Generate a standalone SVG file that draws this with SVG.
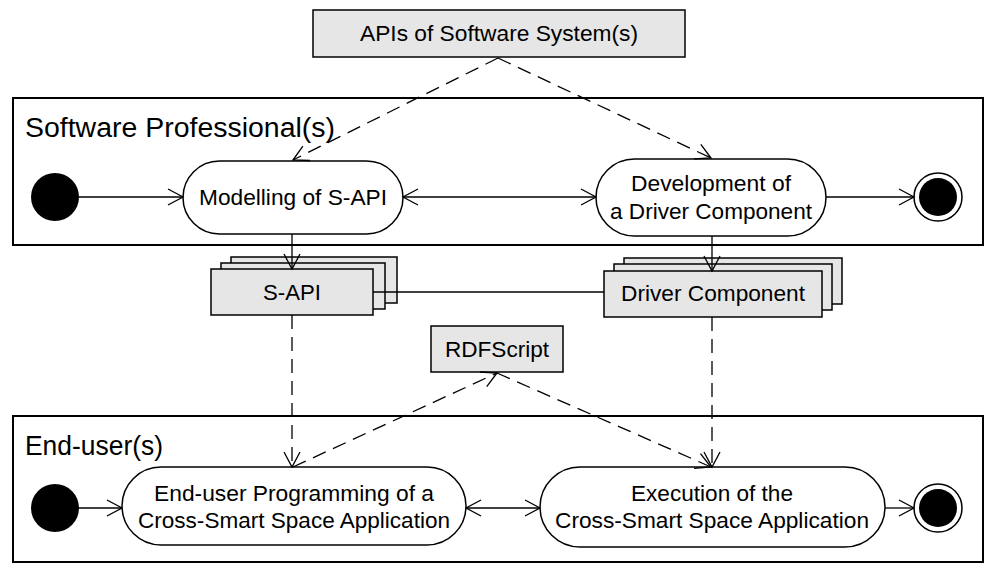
<svg xmlns="http://www.w3.org/2000/svg" width="1000" height="573" viewBox="0 0 1000 573">
<defs>
<style>
text{font-family:"Liberation Sans",Arial,sans-serif;fill:#000}
.lane{fill:none;stroke:#000;stroke-width:2}
.act{fill:#fff;stroke:#000;stroke-width:1.5}
.obj{fill:#e6e6e6;stroke:#000;stroke-width:1.5}
.c{fill:none;stroke:#000;stroke-width:1.3}
.d{stroke-dasharray:14,8}
.t{font-size:22px;text-anchor:middle}
</style>
<marker id="a" markerUnits="userSpaceOnUse" markerWidth="20" markerHeight="20" viewBox="-16 -10 18 20" refX="0" refY="0" orient="auto-start-reverse">
<path d="M-15,-8 L0,0 L-15,8" fill="none" stroke="#000" stroke-width="1.3"/>
</marker>
</defs>
<g id="lane1"><rect class="lane" x="13" y="98" width="970" height="147"/><text x="25" y="137" font-size="27" textLength="310" lengthAdjust="spacingAndGlyphs">Software Professional(s)</text></g>
<g id="lane2"><rect class="lane" x="13" y="416" width="970" height="146"/><text x="25" y="455" font-size="27" textLength="138" lengthAdjust="spacingAndGlyphs">End-user(s)</text></g>
<g id="apis"><rect class="obj" x="313" y="10" width="372" height="47"/><text class="t" x="499" y="41" textLength="278" lengthAdjust="spacingAndGlyphs">APIs of Software System(s)</text></g>
<g id="start1"><circle cx="55" cy="197" r="24"/></g>
<g id="end1"><circle cx="938" cy="197" r="24" fill="#fff" stroke="#000" stroke-width="1.5"/><circle cx="938" cy="197" r="19"/></g>
<g id="modelling"><rect class="act" x="183" y="161" width="220" height="73" rx="36.5"/><text class="t" x="293" y="205" textLength="188" lengthAdjust="spacingAndGlyphs">Modelling of S-API</text></g>
<g id="development"><rect class="act" x="596" y="159" width="230" height="77" rx="38.5"/><text class="t" x="711" y="191" textLength="160" lengthAdjust="spacingAndGlyphs">Development of</text><text class="t" x="711" y="219" textLength="202" lengthAdjust="spacingAndGlyphs">a Driver Component</text></g>
<g id="sapi"><rect class="obj" x="231" y="257" width="166" height="46"/><rect class="obj" x="221" y="263" width="164" height="46"/><rect class="obj" x="211" y="269" width="162" height="46"/><text class="t" x="292" y="300" textLength="58" lengthAdjust="spacingAndGlyphs">S-API</text></g>
<g id="driver"><rect class="obj" x="624" y="258" width="218" height="46"/><rect class="obj" x="614" y="264" width="218" height="46"/><rect class="obj" x="604" y="271" width="218" height="46"/><text class="t" x="713" y="301" textLength="184" lengthAdjust="spacingAndGlyphs">Driver Component</text></g>
<g id="rdf"><rect class="obj" x="431" y="326" width="132" height="46"/><text class="t" x="497" y="357" textLength="104" lengthAdjust="spacingAndGlyphs">RDFScript</text></g>
<g id="start2"><circle cx="55" cy="508" r="24"/></g>
<g id="end2"><circle cx="938" cy="508" r="24" fill="#fff" stroke="#000" stroke-width="1.5"/><circle cx="938" cy="508" r="19"/></g>
<g id="programming"><rect class="act" x="122" y="467" width="344" height="78" rx="39"/><text class="t" x="294" y="501" textLength="280" lengthAdjust="spacingAndGlyphs">End-user Programming of a</text><text class="t" x="294" y="528" textLength="312" lengthAdjust="spacingAndGlyphs">Cross-Smart Space Application</text></g>
<g id="execution"><rect class="act" x="540" y="467" width="345" height="80" rx="40"/><text class="t" x="712" y="501" textLength="162" lengthAdjust="spacingAndGlyphs">Execution of the</text><text class="t" x="712" y="528" textLength="314" lengthAdjust="spacingAndGlyphs">Cross-Smart Space Application</text></g>
<g id="connectors">
<line class="c" x1="79" y1="197" x2="183" y2="197" marker-end="url(#a)"/>
<line class="c" x1="403" y1="197" x2="596" y2="197" marker-start="url(#a)" marker-end="url(#a)"/>
<line class="c" x1="826" y1="197" x2="914" y2="197" marker-end="url(#a)"/>
<line class="c" x1="292" y1="234" x2="292" y2="269" marker-end="url(#a)"/>
<line class="c" x1="712" y1="236" x2="712" y2="271" marker-end="url(#a)"/>
<line class="c" x1="373" y1="292" x2="604" y2="292"/>
<line class="c d" x1="498" y1="58" x2="293" y2="160" marker-end="url(#a)"/>
<line class="c d" x1="498" y1="58" x2="711" y2="158" marker-end="url(#a)"/>
<line class="c d" x1="292" y1="315" x2="292" y2="467" marker-end="url(#a)"/>
<line class="c d" x1="712" y1="317" x2="712" y2="467" marker-end="url(#a)"/>
<line class="c d" x1="293" y1="467" x2="497" y2="373" marker-end="url(#a)"/>
<line class="c d" x1="497" y1="373" x2="711" y2="467" marker-end="url(#a)"/>
<line class="c" x1="79" y1="508" x2="122" y2="508" marker-end="url(#a)"/>
<line class="c" x1="466" y1="508" x2="540" y2="508" marker-start="url(#a)" marker-end="url(#a)"/>
<line class="c" x1="885" y1="508" x2="914" y2="508" marker-end="url(#a)"/>
</g>
</svg>
